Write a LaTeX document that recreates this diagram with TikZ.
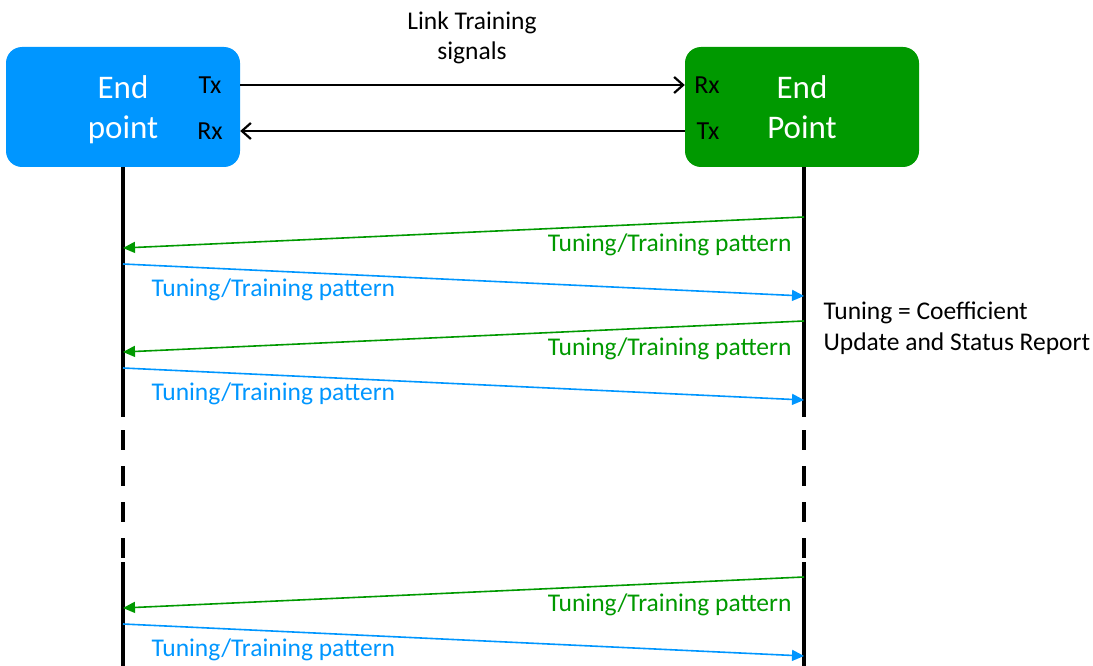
\documentclass[tikz,border=0pt]{standalone}
\usepackage{fontspec}
\setmainfont{Carlito}
\usetikzlibrary{arrows.meta}
\usetikzlibrary{calc}
\usetikzlibrary{positioning}

\definecolor{epblue}{RGB}{0,150,255}
\definecolor{epgreen}{RGB}{0,153,0}

\begin{document}
\begin{tikzpicture}[x=1pt,y=-1pt,
  endpt/.style={rounded corners=16pt,minimum width=234pt,minimum height=120pt},
  eptext/.style={align=center,text=white,font=\fontsize{33}{40}\selectfont},
  port/.style={font=\fontsize{26}{30}\selectfont},
  life/.style={line width=3.5pt},
  sig/.style={line width=2.5pt,-{Straight Barb[length=9pt,width=16pt,line width=2.2pt]}},
  msg/.style={line width=1.6pt,-{Triangle[length=12pt,width=11pt]}},
  lab/.style={font=\fontsize{25.5}{30.5}\selectfont}]

\useasboundingbox (0,0) rectangle (1093,666);

\node[endpt,fill=epblue] (ep1) at (123,107) {};
\node[endpt,fill=epgreen] (ep2) at (802,107) {};
\node[eptext] (ep1t) at ($(ep1)+(0,3)$) {End\\point};
\node[eptext] (ep2t) at (ep2) {End\\Point};
\node[port] (tx1) at (210,85) {Tx};
\node[port] (rx1) at (210,131) {Rx};
\node[port] (rx2) at (707,85) {Rx};
\node[port] (tx2) at (708,131) {Tx};

\node[lab,align=center] (lt) at (472,38) {Link Training\\signals};

\draw[sig] (ep1.east |- tx1) -- (ep2.west |- rx2);
\draw[sig] (ep2.west |- tx2) -- (ep1.east |- rx1);

% life lines
\coordinate (a1) at (123,417);
\coordinate (a2) at (123,562);
\coordinate (a3) at (123,666);
\coordinate (b1) at (804,417);
\coordinate (b2) at (804,562);
\coordinate (b3) at (804,666);
\draw[life] (ep1.south -| a1) -- (a1);
\draw[life,dash pattern=on 20pt off 16pt,dash phase=23pt] (a1) -- (a2);
\draw[life] (a2) -- (a3);
\draw[life] (ep2.south -| b1) -- (b1);
\draw[life,dash pattern=on 20pt off 16pt,dash phase=23pt] (b1) -- (b2);
\draw[life] (b2) -- (b3);

\foreach \i/\y in {1/217,2/321,3/577}{
  \coordinate (r\i) at (804,\y);
  \coordinate (l\i) at (123,\y+31);
  \coordinate (m\i) at (123,\y+47);
  \coordinate (n\i) at (804,\y+79);
  \draw[msg,epgreen] (r\i) -- (l\i);
  \node[lab,text=epgreen,anchor=east] (g\i) at ($(r\i)+(-9,28)$) {Tuning/Training pattern};
  \draw[msg,epblue] (m\i) -- (n\i);
  \node[lab,text=epblue,anchor=west] (t\i) at ($(m\i)+(25,26)$) {Tuning/Training pattern};
}

\node[lab,align=left,anchor=west] (note) at (820,328) {Tuning = Coefficient\\Update and Status Report};

\end{tikzpicture}
\end{document}
